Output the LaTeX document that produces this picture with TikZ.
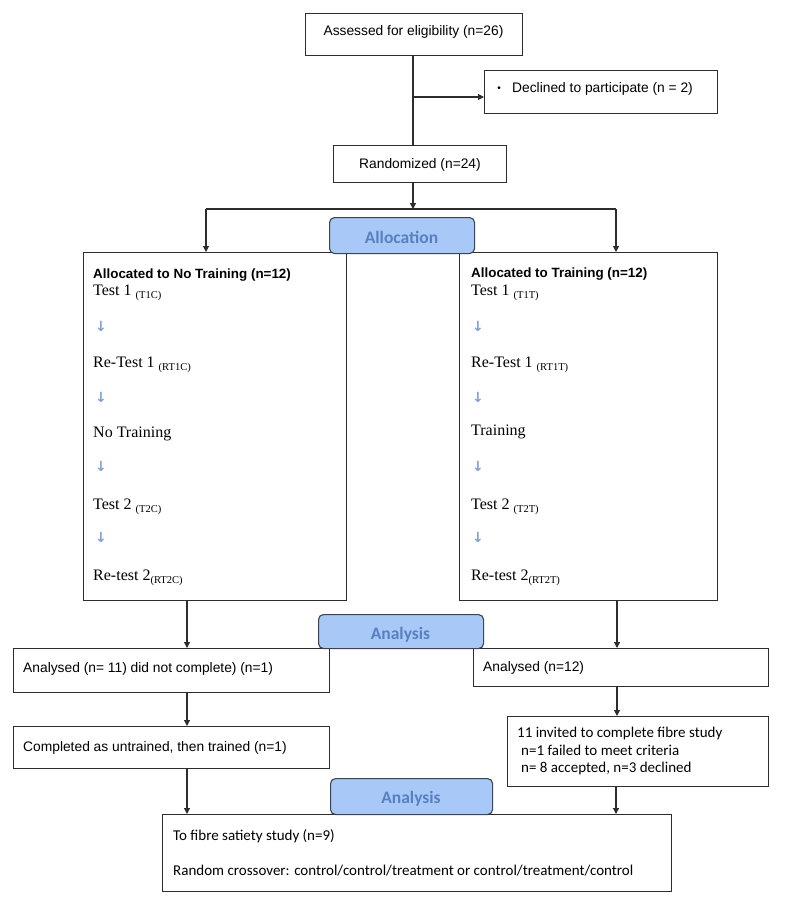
\documentclass[tikz,border=0pt]{standalone}
\usepackage{fontspec}
\setmainfont{Liberation Serif}
\newfontfamily\arialf{Liberation Sans}
\newfontfamily\calf{Carlito}
\newfontfamily\djv{DejaVu Sans}
\usetikzlibrary{arrows.meta}
\definecolor{lineC}{RGB}{45,45,45}
\definecolor{headFill}{RGB}{168,200,248}
\definecolor{headText}{RGB}{88,128,192}
\definecolor{headBorder}{RGB}{60,68,80}
\definecolor{smallArrow}{RGB}{130,160,212}
\newcommand{\subsc}[1]{\raisebox{-3pt}{\fontsize{10.5}{12}\selectfont #1}}
\tikzset{
  box/.style={draw=lineC, line width=1.1pt, inner sep=0pt, fill=white, anchor=north west},
  hdrbox/.style={draw=headBorder, line width=1.1pt, fill=headFill, rounded corners=5pt, inner sep=0pt, anchor=north west},
  hdrtxt/.style={inner sep=0pt, anchor=base, text=headText, font=\calf\bfseries\fontsize{17.5}{20}\selectfont},
  conn/.style={draw=lineC, line width=1.1pt},
  arr/.style={conn, -{Triangle[length=6pt,width=6pt]}},
  sans/.style={font=\arialf\fontsize{13.8}{16}\selectfont, inner sep=0pt, anchor=base west},
  sansb/.style={font=\arialf\bfseries\fontsize{13.4}{16}\selectfont, inner sep=0pt, anchor=base west},
  cal/.style={font=\calf\fontsize{15}{18}\selectfont, inner sep=0pt, anchor=base west},
  serif/.style={font=\fontsize{16}{18}\selectfont, inner sep=0pt, anchor=base west},
  smarr/.style={font=\djv\bfseries\fontsize{14}{14}\selectfont, text=smallArrow, inner sep=0pt, anchor=center},
}
\begin{document}
\begin{tikzpicture}[x=1pt,y=-1pt]
\useasboundingbox (0,0) rectangle (790,900);
\fill[white] (0,0) rectangle (790,900);

% top boxes
\node[box, minimum width=217pt, minimum height=42pt] (assess) at (305,13) {};
\node[sans, anchor=base] (assessT) at (413.5,35) {Assessed for eligibility (n=26)};
\node[box, minimum width=233pt, minimum height=43pt] (decl) at (484,70) {};
\node[sans, anchor=base, font=\arialf\fontsize{10}{12}\selectfont] (declB) at (499,91) {•};
\node[sans] (declT) at (512,92) {Declined to participate (n = 2)};
\node[box, minimum width=173pt, minimum height=37pt] (rand) at (333,145) {};
\node[sans, anchor=base] (randT) at (420,168) {Randomized (n=24)};

\coordinate (br) at (413,97);
\coordinate (split) at (413,209);
\coordinate (splitL) at (206,209);
\coordinate (splitR) at (616,209);
\draw[conn] (assess.south -| br) -- (rand.north -| br);
\draw[arr] (br) -- (br -| decl.west);
\draw[arr] (rand.south -| split) -- (split);
\draw[conn] (splitL) -- (splitR);

% big boxes
\node[box, minimum width=263pt, minimum height=348pt] (left) at (83,252) {};
\node[box, minimum width=258pt, minimum height=348pt] (right) at (459,252) {};
\draw[arr] (splitL) -- (splitL |- left.north);
\draw[arr] (splitR) -- (splitR |- right.north);

\node[hdrbox, minimum width=145pt, minimum height=36pt] (alloc) at (329,217) {};
\node[hdrtxt] (allocT) at (401.5,243.5) {Allocation};

% left box content
\node[sansb] (lh) at (93,278) {Allocated to No Training (n=12)};
\node[serif] (l1) at (93,295) {Test 1 \subsc{(T1C)}};
\node[smarr] (la1) at (101,326) {↓};
\node[serif] (l2) at (93,367) {Re-Test 1 \subsc{(RT1C)}};
\node[smarr] (la2) at (101,397) {↓};
\node[serif] (l3) at (93,437) {No Training};
\node[smarr] (la3) at (101,466) {↓};
\node[serif] (l4) at (93,509) {Test 2 \subsc{(T2C)}};
\node[smarr] (la4) at (101,537) {↓};
\node[serif] (l5) at (93,580) {Re-test 2\subsc{(RT2C)}};

% right box content
\node[sansb] (rh) at (471,277) {Allocated to Training (n=12)};
\node[serif] (r1) at (471,295) {Test 1 \subsc{(T1T)}};
\node[smarr] (ra1) at (478,326) {↓};
\node[serif] (r2) at (471,367) {Re-Test 1 \subsc{(RT1T)}};
\node[smarr] (ra2) at (478,397) {↓};
\node[serif] (r3) at (471,435) {Training};
\node[smarr] (ra3) at (478,466) {↓};
\node[serif] (r4) at (471,509) {Test 2 \subsc{(T2T)}};
\node[smarr] (ra4) at (478,537) {↓};
\node[serif] (r5) at (471,580) {Re-test 2\subsc{(RT2T)}};

% analysis row
\node[box, minimum width=316pt, minimum height=44pt] (la) at (13,648) {};
\node[sans] (laT) at (23,672) {Analysed (n= 11) did not complete) (n=1)};
\node[box, minimum width=295pt, minimum height=38pt] (ra) at (473,648) {};
\node[sans] (raT) at (483,671) {Analysed (n=12)};
\node[hdrbox, minimum width=165pt, minimum height=34pt] (an1) at (318,614) {};
\node[hdrtxt] (an1T) at (400.5,639) {Analysis};

\coordinate (lx) at (187,0);
\coordinate (rx) at (617,0);
\draw[arr] (lx |- left.south) -- (lx |- la.north);
\draw[arr] (rx |- right.south) -- (rx |- ra.north);

\node[box, minimum width=316pt, minimum height=42pt] (lc) at (13,726) {};
\node[sans] (lcT) at (23,751) {Completed as untrained, then trained (n=1)};
\node[box, minimum width=261pt, minimum height=70pt] (rc) at (507,716) {};
\node[cal] (rc1) at (517,737) {11 invited to complete fibre study};
\node[cal] (rc2) at (521,755) {n=1 failed to meet criteria};
\node[cal] (rc3) at (521,772) {n= 8 accepted, n=3 declined};
\draw[arr] (lx |- la.south) -- (lx |- lc.north);
\draw[arr] (rx |- ra.south) -- (rx |- rc.north);

% bottom
\node[box, minimum width=509pt, minimum height=77pt] (fin) at (162,814) {};
\node[cal] (fin1) at (173,840) {To fibre satiety study (n=9)};
\node[cal] (fin2) at (173,875) {Random crossover: control/control/treatment or control/treatment/control};
\node[hdrbox, minimum width=162pt, minimum height=36pt] (an2) at (330,778) {};
\node[hdrtxt] (an2T) at (411,803) {Analysis};
\coordinate (rx2) at (616,0);
\draw[arr] (lx |- lc.south) -- (lx |- fin.north);
\draw[arr] (rx2 |- rc.south) -- (rx2 |- fin.north);
\end{tikzpicture}
\end{document}
